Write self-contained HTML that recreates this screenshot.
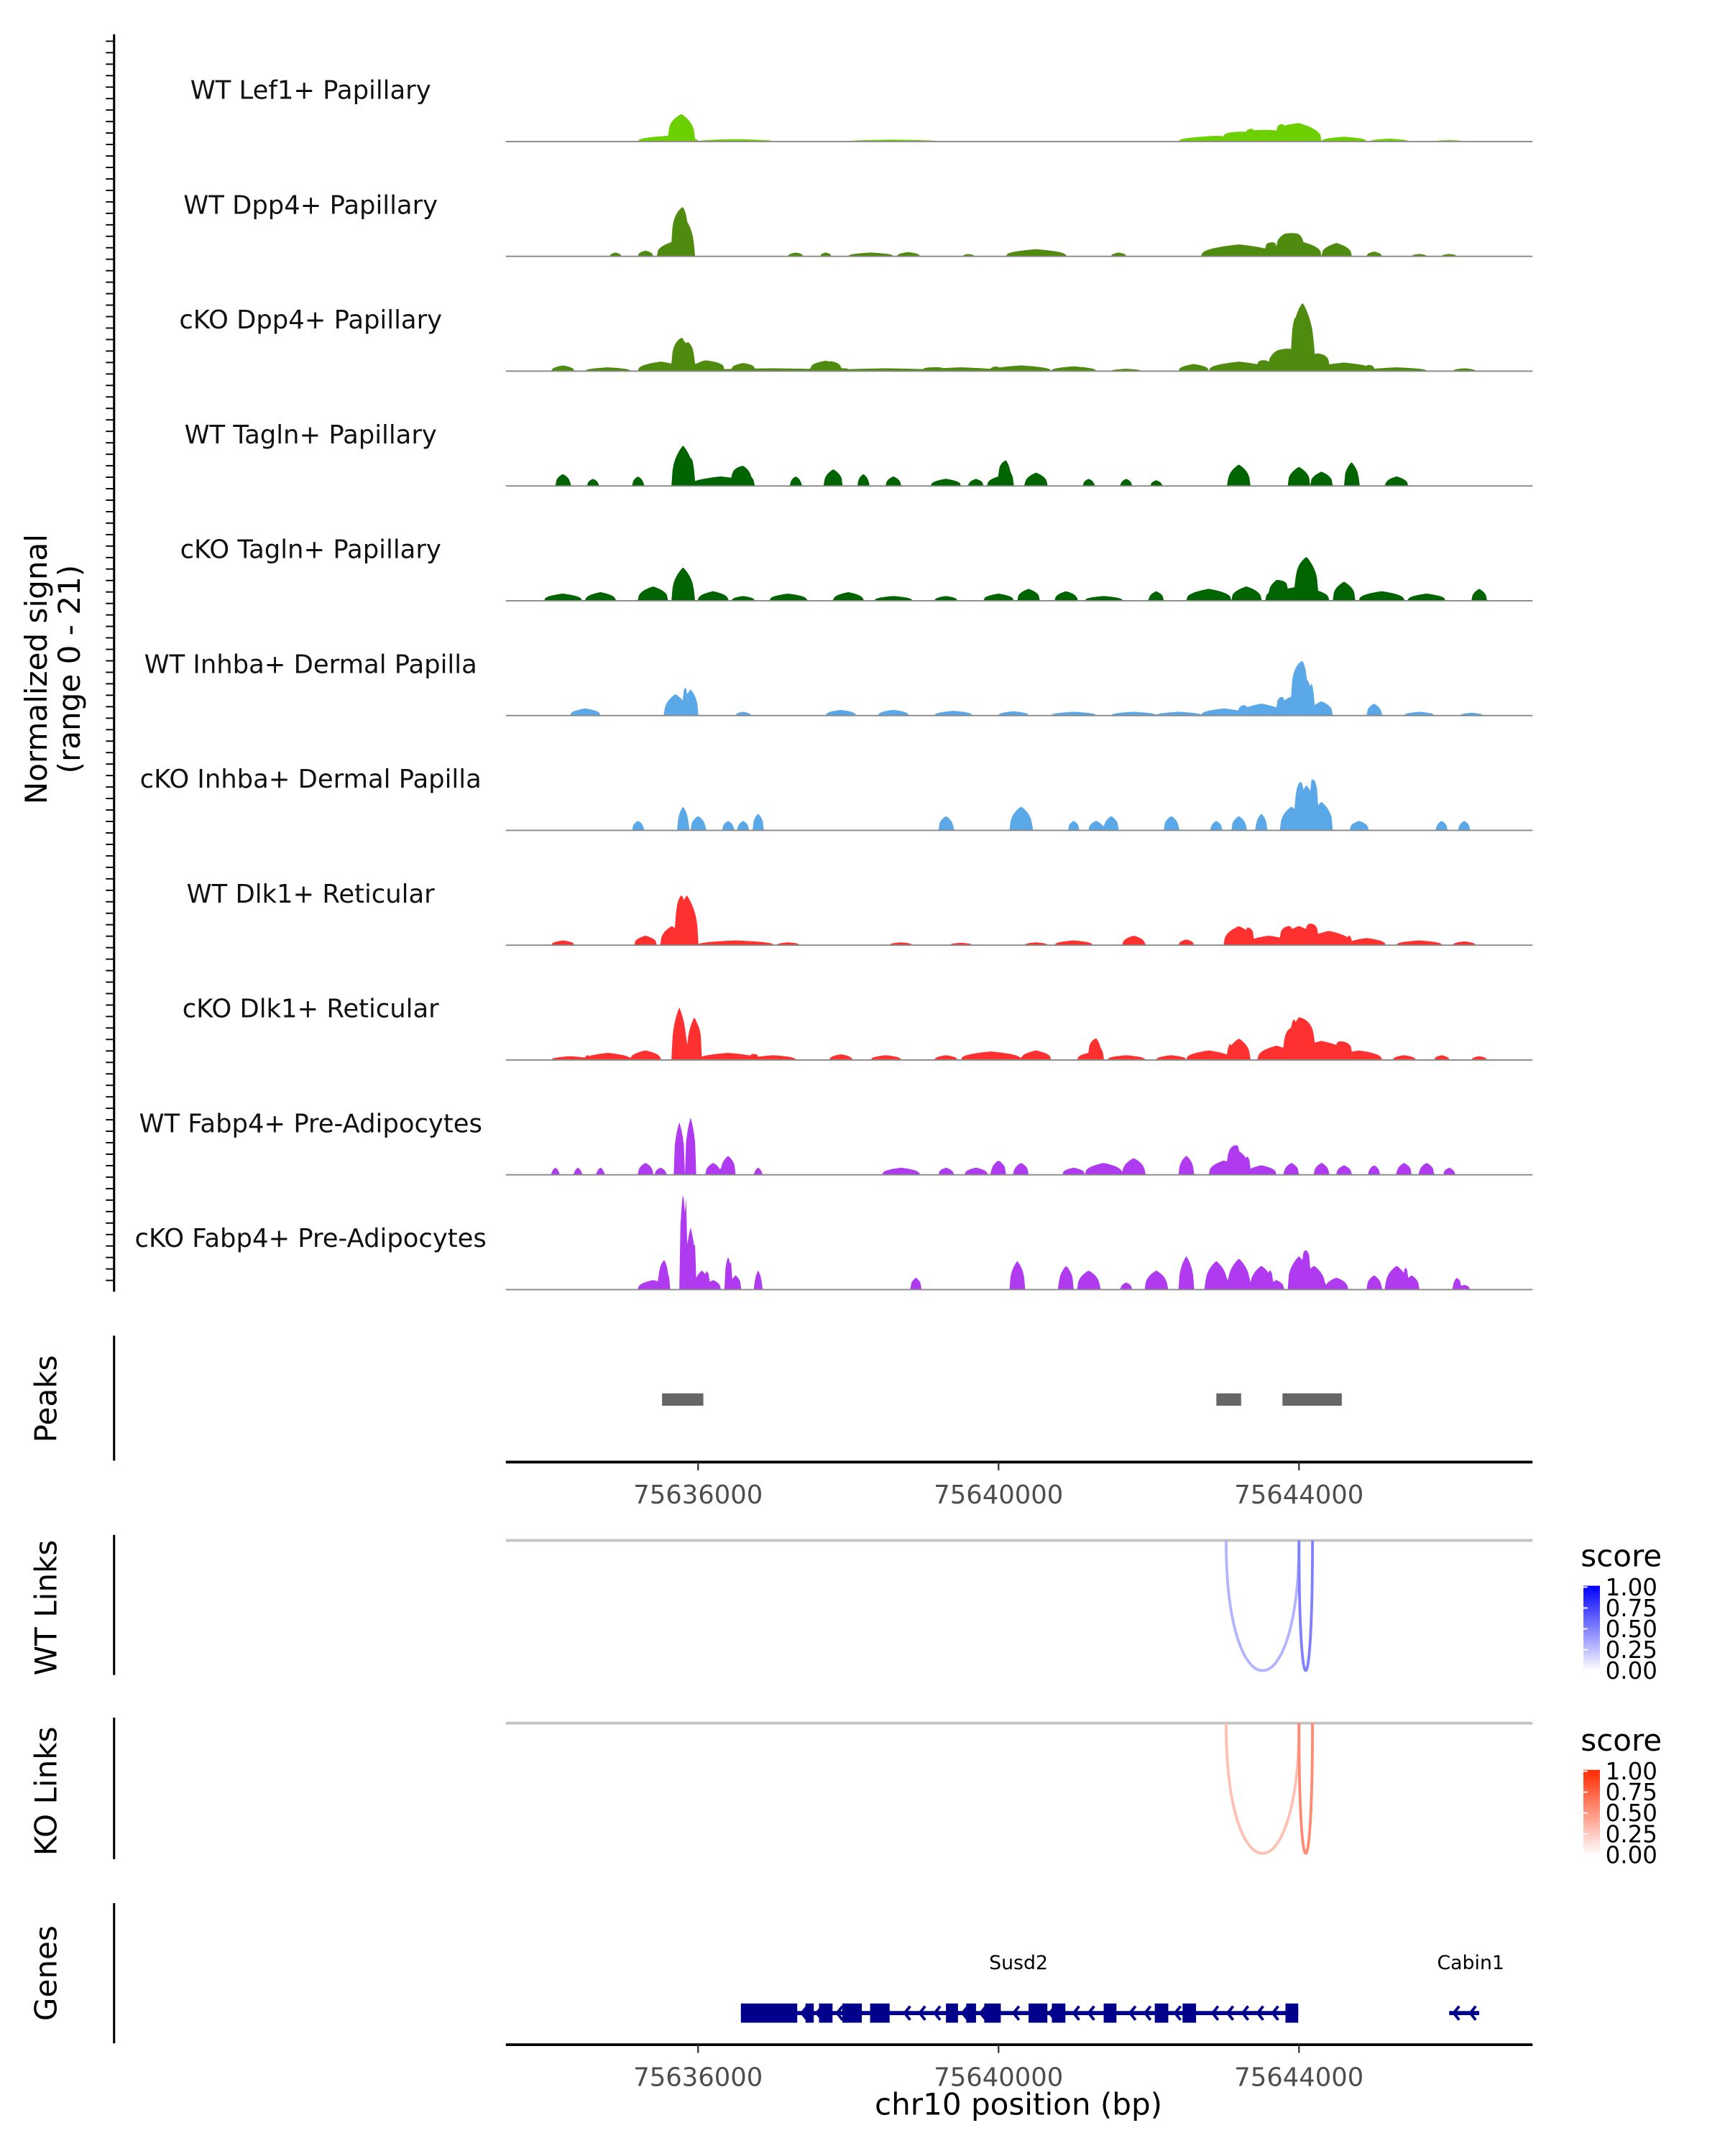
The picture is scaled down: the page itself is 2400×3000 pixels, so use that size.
<!DOCTYPE html>
<html><head><meta charset="utf-8">
<style>
html,body{margin:0;padding:0;background:#fff;}
svg{display:block;font-family:"DejaVu Sans","Liberation Sans",sans-serif;}
</style></head>
<body>
<svg id="chart" width="2400" height="3000" viewBox="0 0 1255 1569" preserveAspectRatio="none" xmlns="http://www.w3.org/2000/svg"></svg>
<script>
// ---------- data ----------
const trackNames = ["WT Lef1+ Papillary","WT Dpp4+ Papillary","cKO Dpp4+ Papillary","WT Tagln+ Papillary","cKO Tagln+ Papillary","WT Inhba+ Dermal Papilla","cKO Inhba+ Dermal Papilla","WT Dlk1+ Reticular","cKO Dlk1+ Reticular","WT Fabp4+ Pre-Adipocytes","cKO Fabp4+ Pre-Adipocytes"];
const trackColors = ["#6ccf00","#4e8b0e","#4e8b0e","#006400","#006400","#5aa8e8","#5aa8e8","#ff3030","#ff3030","#b03af0","#b03af0"];
// peaks: [center kb, width kb, height (signal units)]
const peaks0 = [[75635.78,0.35,4.8],[75635.6,0.8,1.2],[75636.5,1.0,0.5],[75638.6,1.2,0.4],[75642.9,1.0,1.2],[75643.4,0.8,1.5],[75644.0,0.6,2.6],[75643.8,1.0,1.5],[75644.6,0.6,1],[75645.2,0.5,0.6],[75646.0,0.4,0.3]];
const peaks1 = [[75635.8,0.3,8.5],[75635.65,0.4,3],[75635.3,0.2,1.2],[75634.9,0.15,0.8],[75637.3,0.2,0.8],[75637.7,0.15,0.8],[75638.3,0.6,0.8],[75638.8,0.3,0.9],[75639.6,0.15,0.5],[75640.5,0.8,1.5],[75641.6,0.2,0.8],[75643.2,1.0,2.5],[75643.8,0.5,2.5],[75644.0,0.6,3.2],[75644.5,0.4,2.8],[75645.0,0.2,1],[75645.6,0.2,0.5],[75646.0,0.2,0.5]];
const peaks2 = [[75634.2,0.3,1.2],[75634.8,0.6,0.8],[75635.5,0.6,2],[75635.8,0.3,6.5],[75636.1,0.5,2],[75636.6,0.3,1.2],[75637.0,2.0,0.6],[75637.7,0.4,1.8],[75638.5,1.5,0.6],[75639.5,1.0,0.8],[75640.3,0.8,1.2],[75641.0,0.6,1.0],[75641.7,0.4,0.5],[75642.6,0.4,1.5],[75643.2,0.8,2.0],[75643.7,0.5,1.8],[75644.05,0.3,10.5],[75644.0,0.8,4],[75644.6,0.8,1.8],[75645.3,0.8,0.8],[75646.2,0.3,0.6]];
const peaks3 = [[75634.2,0.2,2.5],[75634.6,0.15,1.5],[75635.2,0.15,2],[75635.8,0.3,8.5],[75636.3,0.8,2],[75636.6,0.3,3],[75637.3,0.15,2],[75637.8,0.25,3.5],[75638.2,0.15,2.5],[75638.6,0.2,2],[75639.3,0.4,1.5],[75639.7,0.2,1.5],[75640.0,0.3,2],[75640.1,0.2,4],[75640.5,0.3,2.8],[75641.2,0.15,1.5],[75641.7,0.15,1.5],[75642.1,0.15,1.2],[75643.2,0.3,4.5],[75644.0,0.3,4],[75644.3,0.3,3],[75644.7,0.2,5],[75645.3,0.3,2]];
const peaks4 = [[75634.2,0.5,1.5],[75634.7,0.4,1.8],[75635.4,0.4,3],[75635.8,0.3,7],[75636.2,0.4,2],[75636.6,0.3,1],[75637.2,0.5,1.5],[75638.0,0.4,1.8],[75638.6,0.5,1],[75639.3,0.3,1],[75640.0,0.4,1.5],[75640.4,0.3,2.5],[75640.9,0.3,2],[75641.4,0.5,1],[75642.1,0.2,2],[75642.8,0.6,2.5],[75643.3,0.4,3],[75643.7,0.3,2.5],[75644.1,0.3,6.5],[75644.0,0.8,3],[75644.6,0.3,4],[75645.1,0.6,2],[75645.7,0.5,1.5],[75646.4,0.2,2.5]];
const peaks5 = [[75634.5,0.4,1.5],[75635.7,0.3,4.5],[75635.9,0.2,5.5],[75636.6,0.2,0.8],[75637.9,0.4,1.2],[75638.6,0.4,1.2],[75639.4,0.5,1],[75640.2,0.4,0.9],[75641.0,0.6,0.8],[75641.8,0.6,0.8],[75642.4,0.6,0.8],[75643.0,0.6,1.5],[75643.5,0.6,2.5],[75643.9,0.4,4],[75644.05,0.3,9],[75644.3,0.3,3],[75645.0,0.2,2.5],[75645.6,0.4,0.8],[75646.3,0.3,0.6]];
const peaks6 = [[75635.2,0.15,2],[75635.8,0.15,5],[75636.0,0.2,3],[75636.4,0.15,2],[75636.6,0.15,2],[75636.8,0.15,3.5],[75639.3,0.2,3],[75640.3,0.3,5],[75641.0,0.15,2],[75641.3,0.2,2],[75641.5,0.2,3],[75642.3,0.2,3],[75642.9,0.15,2],[75643.2,0.2,3],[75643.5,0.15,3.5],[75643.9,0.3,5],[75644.1,0.3,9.5],[75644.3,0.3,6],[75644.8,0.25,2],[75645.9,0.15,2],[75646.2,0.15,2]];
const peaks7 = [[75634.2,0.3,1],[75635.3,0.3,2],[75635.65,0.3,4],[75635.85,0.3,10.5],[75636.5,1.0,1],[75637.2,0.3,0.6],[75638.7,0.3,0.6],[75639.5,0.3,0.5],[75640.5,0.3,0.6],[75641.0,0.5,1],[75641.8,0.3,2],[75642.5,0.2,1.2],[75643.2,0.4,4],[75643.6,0.6,2],[75644.0,0.5,4],[75644.4,0.6,3],[75644.9,0.5,1.5],[75645.6,0.6,1],[75646.2,0.3,0.8]];
const peaks8 = [[75634.3,0.5,0.8],[75634.8,0.6,1.5],[75635.3,0.4,2],[75635.75,0.2,11],[75635.95,0.2,9],[75636.4,0.8,1.5],[75637.0,0.6,1],[75637.9,0.3,1.2],[75638.5,0.4,1],[75639.3,0.3,1],[75639.9,0.8,1.8],[75640.5,0.4,2],[75641.2,0.3,1.5],[75641.3,0.2,3.5],[75641.7,0.5,1],[75642.3,0.4,1],[75642.8,0.6,2],[75643.2,0.3,4.5],[75643.7,0.5,3],[75644.0,0.4,6.5],[75644.3,0.8,4],[75644.8,0.6,2],[75645.4,0.3,1],[75645.9,0.2,1],[75646.4,0.2,0.8]];
const peaks9 = [[75634.1,0.1,1.5],[75634.4,0.1,1.5],[75634.7,0.1,1.5],[75635.3,0.2,2.5],[75635.5,0.15,1.5],[75635.75,0.15,11],[75635.9,0.15,12],[75636.2,0.2,2.5],[75636.4,0.2,4],[75636.8,0.1,1.5],[75638.7,0.5,1.5],[75639.3,0.2,1.5],[75639.7,0.3,1.5],[75640.0,0.2,3],[75640.3,0.2,2.5],[75641.0,0.3,1.5],[75641.4,0.5,2.5],[75641.8,0.3,3.5],[75642.5,0.2,4],[75643.0,0.4,3],[75643.2,0.3,5],[75643.5,0.4,2],[75643.9,0.2,2.5],[75644.3,0.2,2.5],[75644.6,0.2,2],[75645.0,0.15,2],[75645.4,0.2,2.5],[75645.7,0.2,2.5],[75646.0,0.15,1.5]];
const peaks10 = [[75635.4,0.4,2],[75635.55,0.15,5],[75635.8,0.1,20.5],[75635.9,0.15,13],[75636.05,0.2,4],[75636.2,0.2,2],[75636.4,0.1,7],[75636.5,0.15,3],[75636.8,0.1,4],[75638.9,0.15,2.5],[75640.25,0.2,6],[75640.9,0.2,5],[75641.2,0.3,4],[75641.7,0.15,1.5],[75642.1,0.3,4],[75642.5,0.2,7],[75642.9,0.3,6],[75643.2,0.3,6.5],[75643.5,0.3,5],[75643.7,0.2,2],[75644.0,0.3,7],[75644.2,0.3,5],[75644.5,0.3,2.5],[75645.0,0.2,3],[75645.3,0.3,5],[75645.5,0.2,3],[75646.1,0.1,2.5],[75646.2,0.15,1]];
const allPeaks = [peaks0,peaks1,peaks2,peaks3,peaks4,peaks5,peaks6,peaks7,peaks8,peaks9,peaks10];
const peakRegions = [[75635.52,75636.07],[75642.9,75643.23],[75643.78,75644.57]];
const xTicks = [75636000,75640000,75644000];
const wtLinks = [[75643.03,75644.0,0.3],[75644.0,75644.18,0.5]];
const koLinks = [[75643.03,75644.0,0.3],[75644.0,75644.18,0.55]];
const legendTicks = ["1.00","0.75","0.50","0.25","0.00"];
const susd2Exons = [[75636.57,75637.32],[75637.43,75637.54],[75637.61,75637.79],[75637.92,75638.18],[75638.29,75638.55],[75639.30,75639.46],[75639.57,75639.70],[75639.81,75640.03],[75640.40,75640.65],[75640.71,75640.89],[75641.40,75641.57],[75642.08,75642.26],[75642.45,75642.63],[75643.82,75643.99]];
const susd2Arrows = [75637.38,75637.58,75637.85,75638.75,75638.95,75639.15,75639.52,75639.76,75640.2,75640.68,75641.0,75641.2,75641.75,75641.95,75642.35,75642.85,75643.05,75643.25,75643.45,75643.65];
const susd2Span = [75636.57,75643.99];
const cabin1Arrows = [75646.06,75646.28];
const cabin1Span = [75646.0,75646.4];

// ---------- scales ----------
const X0 = 368, X1 = 1115, KB0 = 75633.44, KB1 = 75647.11;
function xs(kb){ return X0 + (kb - KB0) / (KB1 - KB0) * (X1 - X0); }
const trackStep = 83.55, yMax = 21, trackH = 73;
function baseY(i){ return 103 + i * trackStep; }
function ys(i, v){ return baseY(i) - Math.min(v, yMax) / yMax * trackH; }

const NS = "http://www.w3.org/2000/svg";
const svg = document.getElementById('chart');
function el(tag, attrs, parent){ const e = document.createElementNS(NS, tag); for (const k in attrs) e.setAttribute(k, attrs[k]); (parent||svg).appendChild(e); return e; }
function txt(s, attrs, parent){ const e = el('text', attrs, parent); e.textContent = s; return e; }

// ---------- signal tracks ----------
const gAxis = el('g', {});


el('line', {x1:83,y1:25,x2:83,y2:940,stroke:'#000','stroke-width':1.6}, gAxis);
for (let y = 30; y <= 940; y += 8.35) el('line', {x1:77,y1:y,x2:83,y2:y,stroke:'#000','stroke-width':1}, gAxis);
const yl = txt('', {x:0,y:0,'font-size':22,'text-anchor':'middle',transform:'translate(42,487) rotate(-90)',fill:'#000'});


el('tspan', {x:0, dy:-8}, yl).textContent = 'Normalized signal';
el('tspan', {x:0, dy:24}, yl).textContent = '(range 0 - 21)';

allPeaks.forEach((pk, i) => {
  const g = el('g', {});
  
  
  const lab = txt(trackNames[i], {x:226,y:baseY(i)-31,'font-size':18.5,'text-anchor':'middle',fill:'#111'}, g);
  
  
  let d = 'M' + X0 + ',' + baseY(i);
  for (let kb = KB0; kb <= KB1; kb += 0.015) {
    let v = 0;
    pk.forEach(p => { const t = 1 - Math.abs(kb - p[0]) / (p[1]/2); if (t > 0) v += p[2] * Math.pow(t, 0.35); });
    d += 'L' + xs(kb).toFixed(2) + ',' + ys(i, v).toFixed(2);
  }
  d += 'L' + X1 + ',' + baseY(i) + 'Z';
  const area = el('path', {d:d, fill:trackColors[i], stroke:'none'}, g);
  
  
  el('line', {x1:X0,y1:baseY(i),x2:X1,y2:baseY(i),stroke:'#888','stroke-width':1}, g);
});

// ---------- peaks ----------
const gp = el('g', {});


el('line', {x1:83,y1:972,x2:83,y2:1063,stroke:'#000','stroke-width':1.6}, gp);
txt('Peaks', {x:0,y:0,'font-size':22,'text-anchor':'middle',transform:'translate(41,1018) rotate(-90)'}, gp);
peakRegions.forEach(r => {
  const rc = el('rect', {x:xs(r[0]),y:1014,width:xs(r[1])-xs(r[0]),height:9,fill:'#666'}, gp);
  
  
});
function xAxis(y, name){
  const g = el('g', {});
  
  
  el('line', {x1:X0,y1:y,x2:X1,y2:y,stroke:'#000','stroke-width':2}, g);
  xTicks.forEach(t => {
    const x = xs(t/1000);
    el('line', {x1:x,y1:y,x2:x,y2:y+6,stroke:'#333','stroke-width':1.2}, g);
    txt(String(t), {x:x,y:y+30,'font-size':18.5,'text-anchor':'middle',fill:'#4d4d4d'}, g);
  });
}
xAxis(1064, 'peaks-x-axis');

// ---------- links ----------
function mix(a, b, t){
  const pa = [1,3,5].map(i => parseInt(a.substr(i,2),16)), pb = [1,3,5].map(i => parseInt(b.substr(i,2),16));
  return 'rgb(' + pa.map((v,i) => Math.round(v + (pb[i]-v)*t)).join(',') + ')';
}
function linkTrack(top, bottomAxis, label, links, c0, c1, legendY, name){
  const g = el('g', {});
  
  
  el('line', {x1:83,y1:top-4,x2:83,y2:bottomAxis,stroke:'#000','stroke-width':1.6}, g);
  txt(label, {x:0,y:0,'font-size':22,'text-anchor':'middle',transform:'translate(41,'+((top+bottomAxis)/2)+') rotate(-90)'}, g);
  el('line', {x1:X0,y1:top,x2:X1,y2:top,stroke:'#c4c4c4','stroke-width':2}, g);
  const depth = 95;
  links.forEach(l => {
    const xa = xs(l[0]), xb = xs(l[1]);
    const col = mix(c1, c0, l[2]);
    const p = el('path', {d:'M'+xa+','+top+' C'+xa+','+(top+depth*1.33)+' '+xb+','+(top+depth*1.33)+' '+xb+','+top, fill:'none', stroke:col,'stroke-width':2}, g);
    
    
  });
  const lg = el('g', {});
  
  
  txt('score', {x:1150,y:legendY,'font-size':22}, lg);
  const gid = 'grad' + name;
  const defs = el('defs', {}, lg);
  const gr = el('linearGradient', {id:gid,x1:0,y1:1,x2:0,y2:0}, defs);
  el('stop', {offset:0,'stop-color':'#ffffff'}, gr);
  el('stop', {offset:1,'stop-color':c0}, gr);
  el('rect', {x:1152,y:legendY+14,width:12,height:62,fill:'url(#'+gid+')'}, lg);
  legendTicks.forEach((t, k) => {
    const y = legendY + 15 + k * 15.2;
    el('line', {x1:1152,y1:y,x2:1155,y2:y,stroke:'#fff'}, lg);
    txt(t, {x:1168,y:y+6,'font-size':17}, lg);
  });
}
linkTrack(1121, 1219, 'WT Links', wtLinks, '#0000ff', '#ffffff', 1140, 'wt-links');
linkTrack(1254, 1353, 'KO Links', koLinks, '#ff2a00', '#ffffff', 1274, 'ko-links');

// ---------- genes ----------
const gg = el('g', {});


el('line', {x1:83,y1:1385,x2:83,y2:1487,stroke:'#000','stroke-width':1.6}, gg);
txt('Genes', {x:0,y:0,'font-size':22,'text-anchor':'middle',transform:'translate(41,1436) rotate(-90)'}, gg);
const navy = '#00008b';
const GY = 1465;
function gene(name, span, exons, arrows, lx){
  const g = el('g', {}, gg);
  
  
  el('line', {x1:xs(span[0]),y1:GY,x2:xs(span[1]),y2:GY,stroke:navy,'stroke-width':3}, g);
  exons.forEach(e => el('rect', {x:xs(e[0]),y:GY-7,width:Math.max(2,xs(e[1])-xs(e[0])),height:14,fill:navy}, g));
  arrows.forEach(a => { const x = xs(a); el('path', {d:'M'+(x+4)+','+(GY-5)+' L'+x+','+GY+' L'+(x+4)+','+(GY+5),fill:'none',stroke:navy,'stroke-width':2}, g); });
  txt(name, {x:lx,y:1433,'font-size':14,'text-anchor':'middle'}, g);
}
gene('Susd2', susd2Span, susd2Exons, susd2Arrows, 741);
gene('Cabin1', cabin1Span, [], cabin1Arrows, 1070);
xAxis(1488, 'genes-x-axis');
const xt = txt('chr10 position (bp)', {x:741,y:1539,'font-size':22,'text-anchor':'middle'});


</script>
</body></html>
